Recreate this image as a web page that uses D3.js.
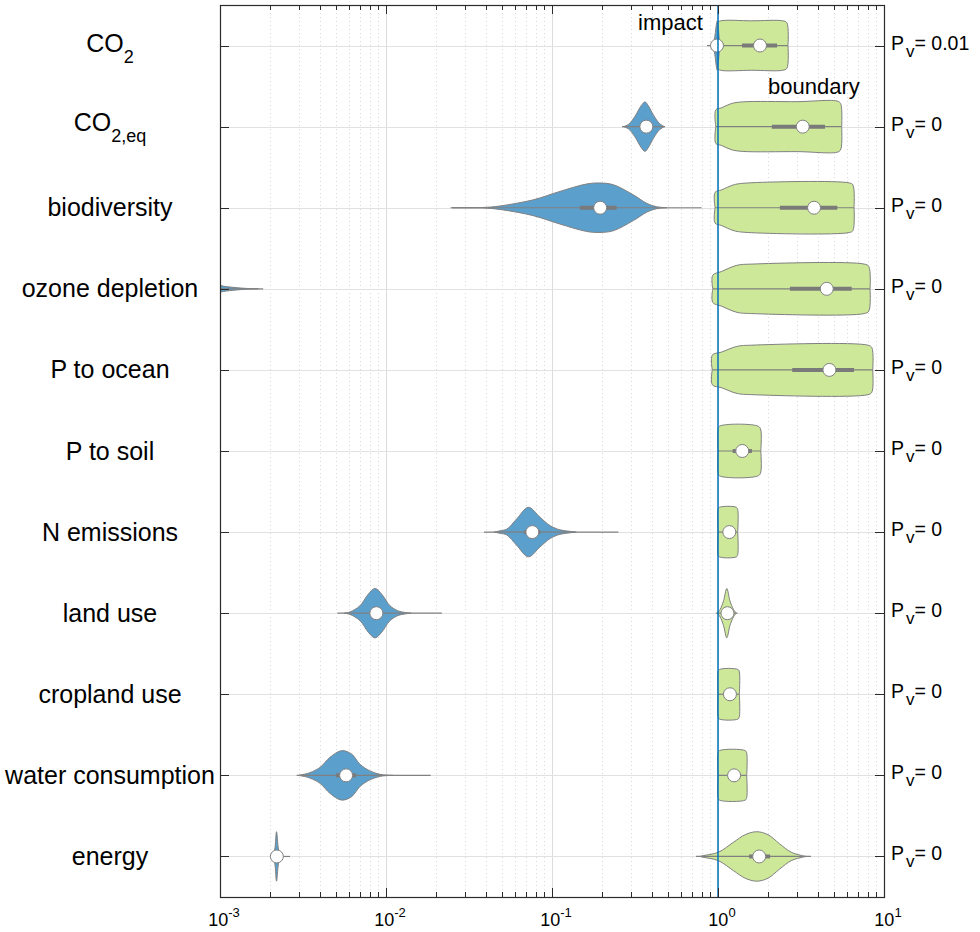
<!DOCTYPE html>
<html>
<head>
<meta charset="utf-8">
<script src="https://cdn.jsdelivr.net/npm/d3@7"></script>
<style>
body { margin: 0; background: #fff; }
svg { display: block; font-family: "Liberation Sans", Arial, sans-serif; }
</style>
</head>
<body>
<svg id="chart" width="980" height="932"></svg>
<script>
// categories, top to bottom
var labelMain = ['CO', 'CO', 'biodiversity', 'ozone depletion', 'P to ocean', 'P to soil',
    'N emissions', 'land use', 'cropland use', 'water consumption', 'energy'];
var labelSub = ['2', '2,eq', '', '', '', '', '', '', '', '', ''];
var pValues = ['0.01', '0', '0', '0', '0', '0', '0', '0', '0', '0', '0'];

// impact distributions: [value, relative density]
var impactShape = [
    [[0.915, 0], [0.95, 0.25], [0.975, 0.8], [0.99, 1], [1.005, 0.7], [1.02, 0.2], [1.035, 0]],
    [[0.27, 0], [0.29, 0.1], [0.315, 0.4], [0.345, 0.85], [0.363, 1], [0.38, 0.85], [0.41, 0.45], [0.445, 0.12], [0.475, 0]],
    [[0.025, 0], [0.0385, 0.01], [0.0486, 0.07], [0.0771, 0.32], [0.1117, 0.66], [0.1618, 0.96], [0.1946, 1], [0.234, 0.93], [0.309, 0.52], [0.372, 0.18], [0.427, 0.04], [0.491, 0]],
    [[0.0002, 0], [0.0004, 0.6], [0.0006, 1], [0.0008, 0.45], [0.001, 0.14], [0.0012, 0.06], [0.0015, 0.01], [0.0017, 0]],
    null,
    null,
    [[0.045, 0], [0.0486, 0.05], [0.0535, 0.12], [0.0612, 0.53], [0.0721, 1], [0.0847, 0.6], [0.0974, 0.26], [0.1117, 0.09], [0.1281, 0.03], [0.14, 0]],
    [[0.0056, 0], [0.00607, 0.05], [0.00697, 0.3], [0.00782, 0.77], [0.00859, 1], [0.00942, 0.77], [0.01057, 0.3], [0.01186, 0.09], [0.013, 0.03], [0.0142, 0]],
    null,
    [[0.0029, 0], [0.00303, 0.01], [0.00348, 0.11], [0.004, 0.32], [0.0046, 0.73], [0.0054, 1], [0.00621, 0.86], [0.00697, 0.45], [0.008, 0.18], [0.0092, 0.04], [0.0101, 0.01], [0.011, 0]],
    [[0.00208, 0], [0.00214, 0.3], [0.00219, 1], [0.00225, 0.3], [0.00232, 0]]
];
var impactLo  = [0.858, 0.264, 0.0245, 0.0001, null, null, 0.0389, 0.00509, null, 0.00299, 0.00202];
var impactHi  = [1.10, 0.48, 0.797, 0.00182, null, null, 0.251, 0.0217, null, 0.0186, 0.00264];
var impactQ1  = [0.975, 0.34, 0.147, 0.0004, null, null, 0.068, 0.0081, null, 0.005, 0.00216];
var impactQ3  = [1.0, 0.40, 0.245, 0.0008, null, null, 0.085, 0.0094, null, 0.0066, 0.00224];
var impactMed = [0.986, 0.37, 0.195, 0.0005, null, null, 0.0761, 0.00875, null, 0.00575, 0.0022];

// boundary distributions
var boundShape = [
    [[1.0, 0], [1.0, 0.93], [1.04, 1], [1.6, 1], [2.45, 1], [2.6, 0.92], [2.64, 0]],
    [[0.97, 0], [0.97, 0.68], [1.05, 0.76], [1.2, 0.93], [1.4, 1], [3, 1.01], [5.3, 1.02], [5.5, 0.9], [5.56, 0]],
    [[0.96, 0], [0.96, 0.62], [1.05, 0.72], [1.25, 0.93], [1.5, 1], [6.2, 1], [6.5, 0.92], [6.6, 0]],
    [[0.93, 0], [0.93, 0.55], [1.05, 0.7], [1.3, 0.95], [1.6, 1], [7.6, 1], [8.1, 0.9], [8.24, 0]],
    [[0.924, 0], [0.924, 0.6], [1.05, 0.72], [1.3, 0.95], [1.6, 1], [8.0, 1], [8.45, 0.9], [8.55, 0]],
    [[1.0, 0], [1.0, 0.85], [1.02, 1], [1.75, 1], [1.81, 0.85], [1.81, 0]],
    [[1.0, 0], [1.0, 0.9], [1.02, 1], [1.29, 1], [1.315, 0.9], [1.315, 0]],
    [[0.99, 0], [1.03, 0.15], [1.08, 0.5], [1.13, 1], [1.18, 0.5], [1.24, 0.15], [1.29, 0]],
    [[1.0, 0], [1.0, 0.9], [1.02, 1], [1.32, 1], [1.345, 0.9], [1.345, 0]],
    [[1.0, 0], [1.0, 0.9], [1.02, 1], [1.46, 1], [1.489, 0.9], [1.489, 0]],
    [[0.78, 0], [0.813, 0.03], [1.005, 0.17], [1.243, 0.58], [1.458, 0.88], [1.708, 1], [2.0, 0.88], [2.35, 0.51], [2.76, 0.17], [3.23, 0.03], [3.4, 0]]
];
var boundLo  = [1.0, 0.97, 0.96, 0.93, 0.924, 1.0, 1.0, 0.97, 1.0, 1.0, 0.737];
var boundHi  = [2.64, 5.56, 6.6, 8.24, 8.55, 1.81, 1.315, 1.31, 1.345, 1.489, 3.63];
var boundQ1  = [1.395, 2.11, 2.36, 2.71, 2.80, 1.226, 1.13, 1.10, 1.12, 1.17, 1.54];
var boundQ3  = [2.27, 4.41, 5.23, 6.39, 6.6, 1.60, 1.21, 1.17, 1.24, 1.36, 2.06];
var boundMed = [1.79, 3.24, 3.79, 4.52, 4.69, 1.40, 1.17, 1.14, 1.18, 1.25, 1.77];

var xDomain = [1e-3, 10];
var xMajor = [1e-3, 1e-2, 1e-1, 1, 10];
var xMajorExp = ['-3', '-2', '-1', '0', '1'];
var refLine = 1;

var LEFT = 220, RIGHT = 884, TOP = 5, BOTTOM = 897;
var IMPACT_COLOR = '#5b9fcd';
var BOUND_COLOR = '#cde899';
var EDGE_COLOR = '#808080';
var AXIS_COLOR = '#2b2b2b';
var GRID_COLOR = '#e2e2e2';
var HALF = 0.305;

var svg = d3.select('#chart');
var n = labelMain.length;

var x = d3.scaleLog().domain(xDomain).range([LEFT, RIGHT]);
var y = d3.scaleLinear().domain([0.5, n + 0.5]).range([TOP, BOTTOM]);
var rowY = function(i) { return y(i + 1); };
var halfPx = y(1 + HALF) - y(1);

svg.append('clipPath').attr('id', 'plotclip')
    .append('rect').attr('x', LEFT).attr('y', TOP)
    .attr('width', RIGHT - LEFT).attr('height', BOTTOM - TOP);

// grid
var allTicks = x.ticks();
var isMajor = function(v) { return Math.abs(Math.log10(v) - Math.round(Math.log10(v))) < 1e-6; };

allTicks.forEach(function(v) {
    if (v <= xDomain[0] || v >= xDomain[1]) return;
    svg.append('line')
        .attr('x1', Math.round(x(v)) + 0.5).attr('x2', Math.round(x(v)) + 0.5)
        .attr('y1', TOP).attr('y2', BOTTOM)
        .style('stroke', isMajor(v) ? '#dcdcdc' : '#d8d8d8')
        .style('stroke-width', 1)
        .style('stroke-dasharray', isMajor(v) ? null : '1,3');
});

for (var i = 0; i < n; i++) {
    svg.append('line')
        .attr('x1', LEFT).attr('x2', RIGHT)
        .attr('y1', Math.round(rowY(i)) + 0.5).attr('y2', Math.round(rowY(i)) + 0.5)
        .style('stroke', GRID_COLOR).style('stroke-width', 1);
}

// violins
var plot = svg.append('g').attr('clip-path', 'url(#plotclip)');

var violinArea = function(i) {
    return d3.area()
        .x(function(d) { return x(d[0]); })
        .y0(function(d) { return rowY(i) - d[1] * halfPx; })
        .y1(function(d) { return rowY(i) + d[1] * halfPx; })
        .curve(d3.curveCatmullRom.alpha(0.5));
};

var drawViolin = function(i, shape, lo, hi, q1, q3, color) {
    if (!shape) return;
    plot.append('path')
        .datum(shape)
        .attr('d', violinArea(i))
        .style('fill', color)
        .style('stroke', EDGE_COLOR)
        .style('stroke-width', 1);
    plot.append('line')
        .attr('x1', x(lo)).attr('x2', x(hi))
        .attr('y1', rowY(i)).attr('y2', rowY(i))
        .style('stroke', EDGE_COLOR).style('stroke-width', 1.2);
    plot.append('line')
        .attr('x1', x(q1)).attr('x2', x(q3))
        .attr('y1', rowY(i)).attr('y2', rowY(i))
        .style('stroke', '#7a7a7a').style('stroke-width', 4);
};

var drawMedian = function(i, med) {
    if (med === null) return;
    plot.append('circle')
        .attr('cx', x(med)).attr('cy', rowY(i)).attr('r', 6.5)
        .style('fill', '#fff')
        .style('stroke', EDGE_COLOR).style('stroke-width', 1);
};

for (var i = 0; i < n; i++) {
    drawViolin(i, boundShape[i], boundLo[i], boundHi[i], boundQ1[i], boundQ3[i], BOUND_COLOR);
}
for (var i = 0; i < n; i++) {
    drawViolin(i, impactShape[i], impactLo[i], impactHi[i], impactQ1[i], impactQ3[i], IMPACT_COLOR);
}

// reference line at 1
svg.append('line')
    .attr('x1', x(refLine)).attr('x2', x(refLine))
    .attr('y1', TOP).attr('y2', BOTTOM)
    .style('stroke', '#0072bd').style('stroke-width', 1.5);

for (var i = 0; i < n; i++) {
    drawMedian(i, boundMed[i]);
    drawMedian(i, impactMed[i]);
}

// axes box and ticks
svg.append('rect')
    .attr('x', LEFT + 0.5).attr('y', TOP + 0.5)
    .attr('width', RIGHT - LEFT).attr('height', BOTTOM - TOP)
    .style('fill', 'none').style('stroke', AXIS_COLOR).style('stroke-width', 1.2);

allTicks.forEach(function(v) {
    var len = isMajor(v) ? 9 : 5;
    var px = Math.round(x(v)) + 0.5;
    svg.append('line').attr('x1', px).attr('x2', px).attr('y1', BOTTOM).attr('y2', BOTTOM - len)
        .style('stroke', AXIS_COLOR).style('stroke-width', 1);
    svg.append('line').attr('x1', px).attr('x2', px).attr('y1', TOP).attr('y2', TOP + len)
        .style('stroke', AXIS_COLOR).style('stroke-width', 1);
});

for (var i = 0; i < n; i++) {
    var py = Math.round(rowY(i)) + 0.5;
    svg.append('line').attr('x1', LEFT).attr('x2', LEFT + 9).attr('y1', py).attr('y2', py)
        .style('stroke', AXIS_COLOR).style('stroke-width', 1);
    svg.append('line').attr('x1', RIGHT - 9).attr('x2', RIGHT).attr('y1', py).attr('y2', py)
        .style('stroke', AXIS_COLOR).style('stroke-width', 1);
}

// x tick labels
xMajor.forEach(function(v, k) {
    var t = svg.append('text')
        .attr('x', x(v) + 4).attr('y', 926)
        .attr('text-anchor', 'middle')
        .style('font-size', '18px').style('fill', '#000');
    t.append('tspan').text('10');
    t.append('tspan').attr('dy', -9).style('font-size', '13px').text(xMajorExp[k]);
});

// category labels
for (var i = 0; i < n; i++) {
    var hasSub = labelSub[i] !== '';
    var t = svg.append('text')
        .attr('x', 110)
        .attr('y', rowY(i) + (hasSub ? (i === 0 ? 6.5 : 4.5) : 8.5))
        .attr('text-anchor', 'middle')
        .style('font-size', '25px').style('fill', '#000');
    t.append('tspan').text(labelMain[i]);
    if (hasSub) {
        t.append('tspan').attr('dy', 11).style('font-size', '18px').text(labelSub[i]);
    }
}

// P value labels
for (var i = 0; i < n; i++) {
    var t = svg.append('text')
        .attr('x', 891).attr('y', rowY(i) + 4)
        .style('font-size', '19.5px').style('fill', '#000');
    t.append('tspan').text('P');
    t.append('tspan').attr('dx', 2).attr('dy', 7).style('font-size', '17px').text('v');
    t.append('tspan').attr('dy', -7).text('= ' + pValues[i]);
}

// annotations
svg.append('text').attr('x', 638).attr('y', 30)
    .style('font-size', '22px').style('fill', '#000').text('impact');
svg.append('text').attr('x', 768).attr('y', 94)
    .style('font-size', '22px').style('fill', '#000').text('boundary');
</script>
</body>
</html>
